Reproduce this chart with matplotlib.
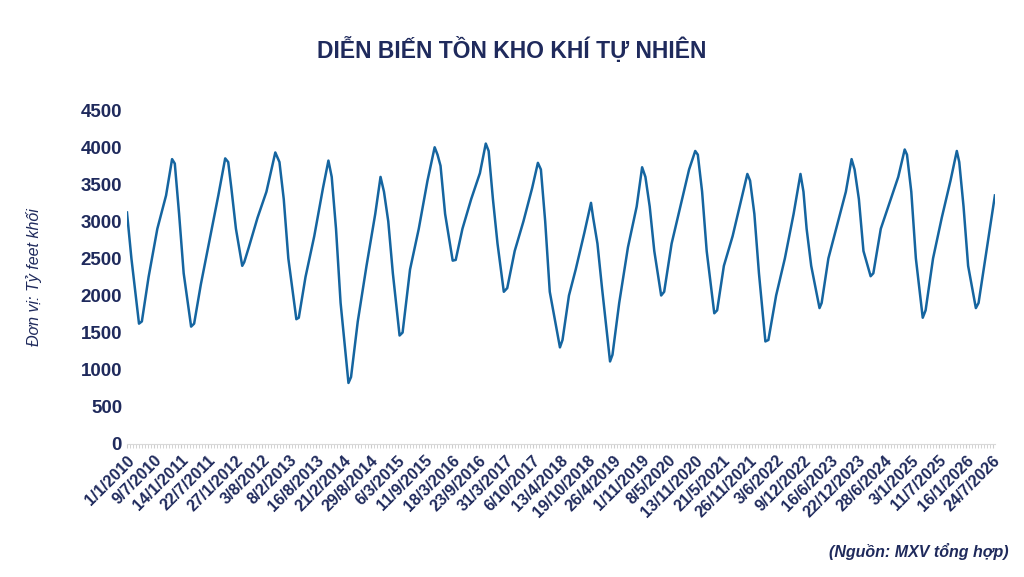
import matplotlib
matplotlib.use("Agg")
import matplotlib.pyplot as plt
import pandas as pd
import numpy as np

plt.rcParams['font.family'] = ['Liberation Sans', 'DejaVu Sans']

dates = ["2010-01-01","2010-02-01","2010-03-26","2010-04-15","2010-06-01","2010-08-01","2010-10-01","2010-11-12","2010-12-01","2010-12-31",
"2011-02-01","2011-03-25","2011-04-15","2011-06-01","2011-08-01","2011-10-01","2011-11-18","2011-12-09","2011-12-31",
"2012-02-01","2012-03-16","2012-03-30","2012-05-01","2012-07-01","2012-09-01","2012-11-02","2012-12-01","2012-12-31",
"2013-02-01","2013-03-29","2013-04-15","2013-06-01","2013-08-01","2013-10-01","2013-11-08","2013-12-01","2013-12-31",
"2014-02-01","2014-03-28","2014-04-15","2014-06-01","2014-08-01","2014-10-01","2014-11-07","2014-12-01","2014-12-31",
"2015-02-01","2015-03-20","2015-04-10","2015-06-01","2015-08-01","2015-10-01","2015-11-20","2015-12-10","2015-12-31",
"2016-02-01","2016-03-25","2016-04-15","2016-06-01","2016-08-01","2016-10-01","2016-11-11","2016-12-01","2016-12-31",
"2017-02-01","2017-03-17","2017-04-10","2017-06-01","2017-08-01","2017-10-01","2017-11-10","2017-12-01","2017-12-31",
"2018-02-01","2018-04-13","2018-05-01","2018-06-15","2018-08-01","2018-10-01","2018-11-16","2018-12-01","2018-12-31",
"2019-02-01","2019-03-29","2019-04-15","2019-06-01","2019-08-01","2019-10-01","2019-11-08","2019-12-01","2019-12-31",
"2020-02-01","2020-03-20","2020-04-10","2020-06-01","2020-08-01","2020-10-01","2020-11-13","2020-12-01","2020-12-31",
"2021-02-01","2021-03-26","2021-04-15","2021-06-01","2021-08-01","2021-10-01","2021-11-12","2021-12-01","2021-12-31",
"2022-02-01","2022-03-18","2022-04-08","2022-06-01","2022-08-01","2022-10-01","2022-11-18","2022-12-09","2022-12-31",
"2023-02-01","2023-03-31","2023-04-15","2023-06-01","2023-08-01","2023-10-01","2023-11-10","2023-12-01","2023-12-31",
"2024-02-01","2024-03-22","2024-04-10","2024-06-01","2024-08-01","2024-10-01","2024-11-15","2024-12-01","2024-12-31",
"2025-02-01","2025-03-21","2025-04-10","2025-06-01","2025-08-01","2025-10-01","2025-11-14","2025-12-01","2025-12-31",
"2026-02-01","2026-03-27","2026-04-15","2026-06-01","2026-08-07"]
values = [3120,2500,1620,1650,2250,2900,3350,3840,3780,3100,
2300,1580,1620,2150,2750,3350,3850,3800,3450,
2900,2400,2450,2650,3050,3400,3930,3800,3300,
2500,1680,1700,2250,2800,3450,3820,3600,2900,
1900,820,900,1650,2400,3100,3600,3400,3000,
2300,1460,1500,2350,2900,3550,4000,3900,3750,
3100,2470,2480,2900,3300,3650,4050,3950,3300,
2700,2050,2100,2600,3000,3450,3790,3700,3000,
2050,1300,1400,2000,2350,2850,3250,3050,2700,
2100,1110,1200,1900,2650,3200,3730,3600,3200,
2600,2000,2050,2700,3200,3700,3950,3900,3400,
2600,1760,1800,2400,2800,3300,3640,3550,3100,
2300,1380,1400,2000,2500,3100,3640,3400,2900,
2400,1830,1900,2500,2950,3400,3840,3700,3300,
2600,2260,2300,2900,3250,3600,3970,3900,3400,
2500,1700,1800,2500,3050,3550,3950,3800,3200,
2400,1830,1900,2500,3350]

d = pd.to_datetime(dates)
fig = plt.figure(figsize=(10.24,5.77), dpi=100)
ax = fig.add_axes([0.124,0.231,0.848,0.578])
ax.plot(d, values, color='#1565a0', lw=1.8)
ticks = pd.date_range("2010-01-01", periods=33, freq="189D")
ax.set_xticks(ticks)
ax.set_xticklabels([f"{t.day}/{t.month}/{t.year}" for t in ticks], rotation=45, ha='right',
                   rotation_mode='anchor', fontsize=11.5, fontweight='bold', color='#1f2a5c')
ax.set_xticks(pd.date_range("2010-01-01","2026-08-10",freq="21D"), minor=True)
ax.tick_params(axis='x', which='minor', length=3, color='#cccccc')
ax.tick_params(axis='x', which='major', length=3, color='#cccccc')
ax.set_xlim(pd.Timestamp("2010-01-01"), pd.Timestamp("2026-08-10"))
ax.set_ylim(0,4500)
ax.set_yticks(range(0,4501,500))
ax.tick_params(axis='y', length=0, labelsize=13.5, labelcolor='#1f2a5c')
for l in ax.get_yticklabels(): l.set_fontweight('bold')
for s in ['top','right','left']: ax.spines[s].set_visible(False)
ax.spines['bottom'].set_color('#d9d9d9')
fig.text(0.5, 0.913, "DIỄN BIẾN TỒN KHO KHÍ TỰ NHIÊN", ha='center', va='center',
         fontsize=16.5, fontweight='bold', color='#1f2a5c')
fig.text(0.033, 0.52, "Đơn vị: Tỷ feet khối", rotation=90, ha='center', va='center',
         fontsize=11.5, style='italic', color='#1f2a5c')
fig.text(0.985, 0.045, "(Nguồn: MXV tổng hợp)", ha='right', va='center',
         fontsize=11.5, style='italic', fontweight='bold', color='#1f2a5c')
fig.savefig("out.png", dpi=100)
